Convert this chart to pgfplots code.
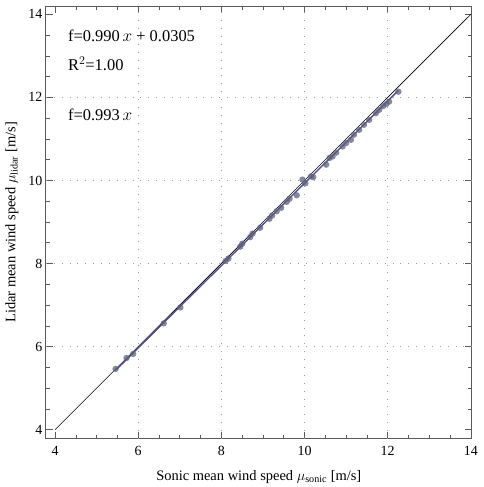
\documentclass[border=0pt]{standalone}
\usepackage{pgfplots}
\pgfplotsset{compat=1.18}
\usepackage{fontspec}
\setmainfont{Liberation Serif}
\usepackage{amsmath}

\definecolor{pointcol}{RGB}{92,96,124}
\definecolor{fitcol}{RGB}{78,76,150}
\definecolor{fitcolB}{RGB}{160,160,220}
\definecolor{framecol}{RGB}{90,90,90}

\pgfplotstableread{
x y
5.456 5.463
5.719 5.727
5.878 5.823
6.614 6.559
7.014 6.942
8.101 8.060
8.170 8.120
8.453 8.405
8.501 8.477
8.693 8.635
8.750 8.720
8.933 8.861
9.156 9.077
9.221 9.156
9.331 9.259
9.437 9.341
9.571 9.484
9.640 9.560
9.811 9.643
9.950 10.020
10.020 9.930
10.156 10.098
10.210 10.080
10.520 10.380
10.600 10.540
10.674 10.578
10.760 10.670
10.914 10.818
11.000 10.900
11.115 10.978
11.190 11.100
11.314 11.218
11.430 11.340
11.554 11.458
11.715 11.619
11.794 11.698
11.890 11.790
11.969 11.842
12.034 11.897
12.257 12.137
}\lidarsonic

\begin{document}
\begin{tikzpicture}
\begin{axis}[
  scale only axis,
  width=427pt, height=434pt,
  xmin=3.78, xmax=14.02, ymin=3.78, ymax=14.2,
  xtick={4,6,...,14}, ytick={4,6,...,14},
  minor tick num=3,
  tick align=inside,
  major tick length=7pt, minor tick length=4pt,
  every tick/.style={framecol, line width=0.6pt},
  axis line style={framecol, line width=0.8pt},
  tick label style={font=\fontsize{14}{14}\selectfont, text=black},
  xticklabel style={yshift=-4pt},
  /pgf/number format/assume math mode=true,
  extra x ticks={6,8,10,12}, extra y ticks={6,8,10,12},
  extra tick style={grid=major, major tick length=0pt, xticklabels={}, yticklabels={}},
  major grid style={gray!75, line width=0.9pt, dash pattern=on 0.9pt off 7pt},
  xlabel={Sonic mean wind speed $\mu_{\text{sonic}}$ [m/s]},
  ylabel={Lidar mean wind speed $\mu_{\text{lidar}}$ [m/s]},
  label style={font=\fontsize{14.5}{14.5}\selectfont},
  xlabel style={yshift=-8pt},
  ylabel style={yshift=3pt},
  clip=true,
]
% 1:1 reference line
\addplot[black, line width=0.6pt] coordinates {(4,4) (14,14)};
% regression through the origin
\addplot[fitcolB, line width=0.9pt] coordinates {(5.456,5.418) (12.257,12.171)};
% linear regression
\addplot[fitcol, line width=1.3pt] coordinates {(5.456,5.432) (12.257,12.165)};
% measured mean speeds
\addplot[only marks, mark=*, mark size=3.2pt, color=pointcol,
  mark options={fill=pointcol, draw opacity=0, fill opacity=0.75}]
  table[x=x, y=y]{\lidarsonic};
\node[anchor=base west, inner sep=0pt, font=\fontsize{16.5}{16.5}\selectfont] at (axis cs:4.31,13.35) {f=0.990\,$x$ + 0.0305};
\node[anchor=base west, inner sep=0pt, font=\fontsize{16.5}{16.5}\selectfont] at (axis cs:4.31,12.65) {R$^2$=1.00};
\node[anchor=base west, inner sep=0pt, font=\fontsize{16.5}{16.5}\selectfont] at (axis cs:4.31,11.45) {f=0.993\,$x$};
\end{axis}
\path (current axis.south west) ++(-46pt,-47pt) coordinate (bbA);
\path (current axis.north east) ++(12pt,6pt) coordinate (bbB);
\useasboundingbox (bbA) rectangle (bbB);
\end{tikzpicture}
\end{document}
